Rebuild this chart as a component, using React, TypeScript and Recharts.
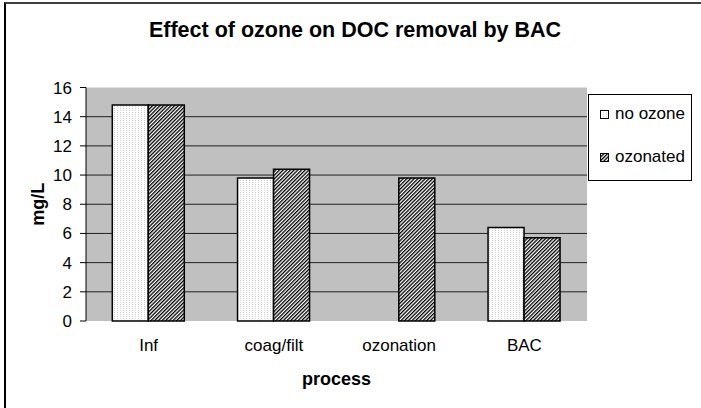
import { Bar, BarChart, CartesianGrid, XAxis, YAxis } from "recharts";

const processes = ["Inf", "coag/filt", "ozonation", "BAC"];
const noOzone = [14.8, 9.8, null, 6.4];
const ozonated = [14.8, 10.4, 9.8, 5.7];
const yTicks = [0, 2, 4, 6, 8, 10, 12, 14, 16];
const boundaryTicks = [0, 1, 2, 3, 4];
const seriesNames = ["no ozone", "ozonated"];

const font = "Arial, 'Liberation Sans', sans-serif";

const chartData = processes.map((p, i) => ({ process: p, noOzone: noOzone[i], ozonated: ozonated[i] }));

function Patterns() {
  return (
    <defs>
      <pattern id="dots" width="3" height="2" patternUnits="userSpaceOnUse">
        <rect width="3" height="2" fill="#fff" />
        <rect width="1" height="1" fill="#d0d0d0" />
      </pattern>
      <pattern id="hatch" width="2.6" height="2.6" patternUnits="userSpaceOnUse" patternTransform="rotate(45)">
        <rect width="2.6" height="2.6" fill="#fff" />
        <rect width="1.3" height="2.6" fill="#000" />
      </pattern>
    </defs>
  );
}

function LegendBox() {
  const fills = ["url(#dots)", "url(#hatch)"];
  return (
    <div
      style={{
        position: "absolute",
        left: 588,
        top: 94,
        width: 104,
        height: 87,
        border: "1px solid #000",
        background: "#fff",
        boxSizing: "border-box",
        fontFamily: font,
        fontSize: 17,
        color: "#000",
        paddingTop: 9,
      }}
    >
      {seriesNames.map((name, i) => (
        <div key={name} style={{ display: "flex", alignItems: "center", marginLeft: 11, marginTop: i === 0 ? 0 : 23, lineHeight: "20px" }}>
          <svg width={9} height={9} style={{ marginRight: 6 }}>
            <rect x={0.5} y={0.5} width={8} height={8} fill={fills[i]} stroke="#000" strokeWidth={1} />
          </svg>
          <span>{name}</span>
        </div>
      ))}
    </div>
  );
}

export default function App() {
  return (
    <div style={{ position: "fixed", left: 0, top: 0, width: 701, height: 408, background: "#fff", overflow: "hidden" }}>
      <div
        style={{
          position: "absolute",
          left: 4,
          top: 2,
          width: 720,
          height: 420,
          borderTop: "2px solid #404040",
          borderLeft: "2px solid #000",
        }}
      />
      <div
        style={{
          position: "absolute",
          left: 0,
          width: 710,
          top: 17,
          textAlign: "center",
          fontFamily: font,
          fontWeight: "bold",
          fontSize: 21.5,
          lineHeight: "26px",
          color: "#000",
        }}
      >
        Effect of ozone on DOC removal by BAC
      </div>
      <div
        style={{
          position: "absolute",
          left: 86,
          width: 501,
          top: 368,
          textAlign: "center",
          fontFamily: font,
          fontWeight: "bold",
          fontSize: 18,
          lineHeight: "22px",
          color: "#000",
        }}
      >
        process
      </div>
      <div style={{ position: "absolute", left: 0, top: 0 }}>
        <BarChart
          width={701}
          height={408}
          data={chartData}
          margin={{ top: 87.5, right: 114, bottom: 57, left: 26 }}
          barCategoryGap="21%"
          barGap={0}
          style={{ fontFamily: font }}
        >
          <Patterns />
          <CartesianGrid vertical={false} fill="#C0C0C0" stroke="#202020" strokeWidth={1} horizontalValues={[2, 4, 6, 8, 10, 12, 14]} />
          <XAxis
            xAxisId="edge"
            type="number"
            domain={[0, 4]}
            ticks={boundaryTicks}
            tickFormatter={() => ""}
            tickSize={5}
            height={0}
            axisLine={{ stroke: "#000", strokeWidth: 1.5 }}
            tickLine={{ stroke: "#000" }}
          />
          <XAxis
            dataKey="process"
            tickLine={false}
            axisLine={false}
            height={30}
            tickMargin={12}
            tick={{ fill: "#000", fontSize: 17 }}
          />
          <XAxis xAxisId="top" orientation="top" dataKey="process" height={0} tick={false} tickLine={false} axisLine={{ stroke: "#8c8c8c", strokeWidth: 1.5 }} />
          <YAxis
            domain={[0, 16]}
            ticks={yTicks}
            width={60}
            tickSize={6}
            tickMargin={8}
            interval={0}
            axisLine={{ stroke: "#000" }}
            tickLine={{ stroke: "#000" }}
            tick={{ fill: "#000", fontSize: 17 }}
            label={{ value: "mg/L", angle: -90, position: "insideLeft", offset: 12, style: { fontWeight: "bold", fontSize: 18, fill: "#000", textAnchor: "middle" } }}
          />
          <YAxis yAxisId="right" orientation="right" domain={[0, 16]} width={0} tick={false} tickLine={false} axisLine={{ stroke: "#8c8c8c", strokeWidth: 1.5 }} />
          <Bar dataKey="noOzone" name={seriesNames[0]} fill="url(#dots)" stroke="#000" strokeWidth={1.5} isAnimationActive={false} />
          <Bar dataKey="ozonated" name={seriesNames[1]} fill="url(#hatch)" stroke="#000" strokeWidth={1.5} isAnimationActive={false} />
        </BarChart>
      </div>
      <LegendBox />
    </div>
  );
}
